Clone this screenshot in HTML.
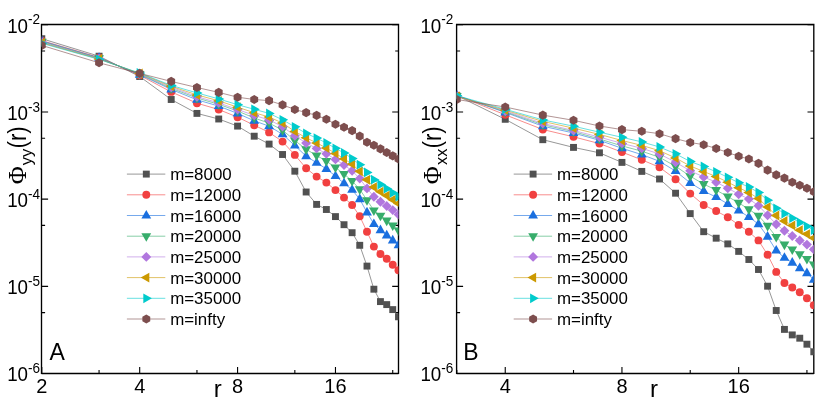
<!DOCTYPE html>
<html><head><meta charset="utf-8"><style>
html,body{margin:0;padding:0;background:#fff;}
svg{display:block;font-family:"Liberation Sans",sans-serif;}
svg{will-change:transform;}
</style></head><body>
<svg width="830" height="415" viewBox="0 0 830 415">
<rect width="830" height="415" fill="#fff"/>
<path d="M41.5,23.85V374.09999999999997M398.5,23.85V374.09999999999997M41.5,24.5H398.5M41.5,373.45H398.5" fill="none" stroke="#000" stroke-width="1.35"/>
<text x="41.80" y="393.0" font-size="20" text-anchor="middle">2</text>
<text x="139.69" y="393.0" font-size="20" text-anchor="middle">4</text>
<text x="237.58" y="393.0" font-size="20" text-anchor="middle">8</text>
<text x="335.47" y="393.0" font-size="20" text-anchor="middle">16</text>
<path d="M41.8,24.75h6.3M398.5,24.75h-6.3 M41.8,51.00h3.3M398.5,51.00h-3.3 M41.8,111.95h6.3M398.5,111.95h-6.3 M41.8,138.20h3.3M398.5,138.20h-3.3 M41.8,199.15h6.3M398.5,199.15h-6.3 M41.8,225.40h3.3M398.5,225.40h-3.3 M41.8,286.35h6.3M398.5,286.35h-6.3 M41.8,312.60h3.3M398.5,312.60h-3.3 M41.8,373.55h6.3M398.5,373.55h-6.3 M41.80,373.4v-6.3 M99.06,373.4v-3.3 M139.69,373.4v-6.3 M196.95,373.4v-3.3 M237.58,373.4v-6.3 M294.84,373.4v-3.3 M335.47,373.4v-6.3 M392.73,373.4v-3.3" stroke="#000" stroke-width="1.1" fill="none"/>
<clipPath id="ca"><rect x="41.8" y="24.6" width="356.7" height="348.79999999999995"/></clipPath>
<g clip-path="url(#ca)">
<polyline points="41.80,38.7 99.06,56.2 139.69,76.5 171.20,99.5 196.95,113.4 218.72,119 237.58,126.1 254.22,136.2 269.10,144.1 282.56,154.5 294.84,171.2 306.15,192 316.61,204.4 326.36,209.5 335.47,216.6 344.03,224.7 352.11,232.7 359.74,245.3 366.99,266.1 373.88,289.2 380.45,301.6 386.72,304.6 392.73,309.6 398.50,316.8" fill="none" stroke="#515151" stroke-width="0.6"/>
<rect x="38.35" y="35.25" width="6.9" height="6.9" fill="#515151"/>
<rect x="95.61" y="52.75" width="6.9" height="6.9" fill="#515151"/>
<rect x="136.24" y="73.05" width="6.9" height="6.9" fill="#515151"/>
<rect x="167.75" y="96.05" width="6.9" height="6.9" fill="#515151"/>
<rect x="193.50" y="109.95" width="6.9" height="6.9" fill="#515151"/>
<rect x="215.27" y="115.55" width="6.9" height="6.9" fill="#515151"/>
<rect x="234.13" y="122.65" width="6.9" height="6.9" fill="#515151"/>
<rect x="250.77" y="132.75" width="6.9" height="6.9" fill="#515151"/>
<rect x="265.65" y="140.65" width="6.9" height="6.9" fill="#515151"/>
<rect x="279.11" y="151.05" width="6.9" height="6.9" fill="#515151"/>
<rect x="291.39" y="167.75" width="6.9" height="6.9" fill="#515151"/>
<rect x="302.70" y="188.55" width="6.9" height="6.9" fill="#515151"/>
<rect x="313.16" y="200.95" width="6.9" height="6.9" fill="#515151"/>
<rect x="322.91" y="206.05" width="6.9" height="6.9" fill="#515151"/>
<rect x="332.02" y="213.15" width="6.9" height="6.9" fill="#515151"/>
<rect x="340.58" y="221.25" width="6.9" height="6.9" fill="#515151"/>
<rect x="348.66" y="229.25" width="6.9" height="6.9" fill="#515151"/>
<rect x="356.29" y="241.85" width="6.9" height="6.9" fill="#515151"/>
<rect x="363.54" y="262.65" width="6.9" height="6.9" fill="#515151"/>
<rect x="370.43" y="285.75" width="6.9" height="6.9" fill="#515151"/>
<rect x="377.00" y="298.15" width="6.9" height="6.9" fill="#515151"/>
<rect x="383.27" y="301.15" width="6.9" height="6.9" fill="#515151"/>
<rect x="389.28" y="306.15" width="6.9" height="6.9" fill="#515151"/>
<rect x="395.05" y="313.35" width="6.9" height="6.9" fill="#515151"/>
<polyline points="41.80,40.6 99.06,57.4 139.69,75.3 171.20,91.9 196.95,103.2 218.72,109.5 237.58,117.2 254.22,125.2 269.10,132.4 282.56,141.6 294.84,154.9 306.15,168.3 316.61,176.6 326.36,182.6 335.47,190.1 344.03,197.6 352.11,205 359.74,216.2 366.99,231.7 373.88,246.6 380.45,254.0 386.72,258.8 392.73,264.7 398.50,270.2" fill="none" stroke="#F14040" stroke-width="0.6"/>
<circle cx="41.8" cy="40.6" r="3.95" fill="#F14040"/>
<circle cx="99.06" cy="57.4" r="3.95" fill="#F14040"/>
<circle cx="139.69" cy="75.3" r="3.95" fill="#F14040"/>
<circle cx="171.2" cy="91.9" r="3.95" fill="#F14040"/>
<circle cx="196.95" cy="103.2" r="3.95" fill="#F14040"/>
<circle cx="218.72" cy="109.5" r="3.95" fill="#F14040"/>
<circle cx="237.58" cy="117.2" r="3.95" fill="#F14040"/>
<circle cx="254.22" cy="125.2" r="3.95" fill="#F14040"/>
<circle cx="269.1" cy="132.4" r="3.95" fill="#F14040"/>
<circle cx="282.56" cy="141.6" r="3.95" fill="#F14040"/>
<circle cx="294.84" cy="154.9" r="3.95" fill="#F14040"/>
<circle cx="306.15" cy="168.3" r="3.95" fill="#F14040"/>
<circle cx="316.61" cy="176.6" r="3.95" fill="#F14040"/>
<circle cx="326.36" cy="182.6" r="3.95" fill="#F14040"/>
<circle cx="335.47" cy="190.1" r="3.95" fill="#F14040"/>
<circle cx="344.03" cy="197.6" r="3.95" fill="#F14040"/>
<circle cx="352.11" cy="205" r="3.95" fill="#F14040"/>
<circle cx="359.74" cy="216.2" r="3.95" fill="#F14040"/>
<circle cx="366.99" cy="231.7" r="3.95" fill="#F14040"/>
<circle cx="373.88" cy="246.6" r="3.95" fill="#F14040"/>
<circle cx="380.45" cy="254.0" r="3.95" fill="#F14040"/>
<circle cx="386.72" cy="258.8" r="3.95" fill="#F14040"/>
<circle cx="392.73" cy="264.7" r="3.95" fill="#F14040"/>
<circle cx="398.5" cy="270.2" r="3.95" fill="#F14040"/>
<polyline points="41.80,41 99.06,57.8 139.69,74.7 171.20,89.4 196.95,99.8 218.72,106.1 237.58,113.4 254.22,120.8 269.10,126.2 282.56,134.3 294.84,145.6 306.15,156.2 316.61,162.8 326.36,168.9 335.47,176.1 344.03,183.3 352.11,189.8 359.74,199.2 366.99,212.4 373.88,224 380.45,230.2 386.72,235.4 392.73,240.4 398.50,245.2" fill="none" stroke="#1A6FDF" stroke-width="0.6"/>
<path d="M36.90,44.00L46.70,44.00L41.8,35.40Z" fill="#1A6FDF"/>
<path d="M94.16,60.80L103.96,60.80L99.06,52.20Z" fill="#1A6FDF"/>
<path d="M134.79,77.70L144.59,77.70L139.69,69.10Z" fill="#1A6FDF"/>
<path d="M166.30,92.40L176.10,92.40L171.2,83.80Z" fill="#1A6FDF"/>
<path d="M192.05,102.80L201.85,102.80L196.95,94.20Z" fill="#1A6FDF"/>
<path d="M213.82,109.10L223.62,109.10L218.72,100.50Z" fill="#1A6FDF"/>
<path d="M232.68,116.40L242.48,116.40L237.58,107.80Z" fill="#1A6FDF"/>
<path d="M249.32,123.80L259.12,123.80L254.22,115.20Z" fill="#1A6FDF"/>
<path d="M264.20,129.20L274.00,129.20L269.1,120.60Z" fill="#1A6FDF"/>
<path d="M277.66,137.30L287.46,137.30L282.56,128.70Z" fill="#1A6FDF"/>
<path d="M289.94,148.60L299.74,148.60L294.84,140.00Z" fill="#1A6FDF"/>
<path d="M301.25,159.20L311.05,159.20L306.15,150.60Z" fill="#1A6FDF"/>
<path d="M311.71,165.80L321.51,165.80L316.61,157.20Z" fill="#1A6FDF"/>
<path d="M321.46,171.90L331.26,171.90L326.36,163.30Z" fill="#1A6FDF"/>
<path d="M330.57,179.10L340.37,179.10L335.47,170.50Z" fill="#1A6FDF"/>
<path d="M339.13,186.30L348.93,186.30L344.03,177.70Z" fill="#1A6FDF"/>
<path d="M347.21,192.80L357.01,192.80L352.11,184.20Z" fill="#1A6FDF"/>
<path d="M354.84,202.20L364.64,202.20L359.74,193.60Z" fill="#1A6FDF"/>
<path d="M362.09,215.40L371.89,215.40L366.99,206.80Z" fill="#1A6FDF"/>
<path d="M368.98,227.00L378.78,227.00L373.88,218.40Z" fill="#1A6FDF"/>
<path d="M375.55,233.20L385.35,233.20L380.45,224.60Z" fill="#1A6FDF"/>
<path d="M381.82,238.40L391.62,238.40L386.72,229.80Z" fill="#1A6FDF"/>
<path d="M387.83,243.40L397.63,243.40L392.73,234.80Z" fill="#1A6FDF"/>
<path d="M393.60,248.20L403.40,248.20L398.5,239.60Z" fill="#1A6FDF"/>
<polyline points="41.80,41.7 99.06,58.3 139.69,74.2 171.20,88.3 196.95,98 218.72,104.3 237.58,111 254.22,118 269.10,123.1 282.56,130.1 294.84,140.5 306.15,149.3 316.61,155.5 326.36,161.1 335.47,167.5 344.03,174 352.11,181 359.74,189.3 366.99,200.2 373.88,210.4 380.45,215.7 386.72,220.6 392.73,225.4 398.50,230.4" fill="none" stroke="#37AD6B" stroke-width="0.6"/>
<path d="M36.90,38.70L46.70,38.70L41.8,47.30Z" fill="#37AD6B"/>
<path d="M94.16,55.30L103.96,55.30L99.06,63.90Z" fill="#37AD6B"/>
<path d="M134.79,71.20L144.59,71.20L139.69,79.80Z" fill="#37AD6B"/>
<path d="M166.30,85.30L176.10,85.30L171.2,93.90Z" fill="#37AD6B"/>
<path d="M192.05,95.00L201.85,95.00L196.95,103.60Z" fill="#37AD6B"/>
<path d="M213.82,101.30L223.62,101.30L218.72,109.90Z" fill="#37AD6B"/>
<path d="M232.68,108.00L242.48,108.00L237.58,116.60Z" fill="#37AD6B"/>
<path d="M249.32,115.00L259.12,115.00L254.22,123.60Z" fill="#37AD6B"/>
<path d="M264.20,120.10L274.00,120.10L269.1,128.70Z" fill="#37AD6B"/>
<path d="M277.66,127.10L287.46,127.10L282.56,135.70Z" fill="#37AD6B"/>
<path d="M289.94,137.50L299.74,137.50L294.84,146.10Z" fill="#37AD6B"/>
<path d="M301.25,146.30L311.05,146.30L306.15,154.90Z" fill="#37AD6B"/>
<path d="M311.71,152.50L321.51,152.50L316.61,161.10Z" fill="#37AD6B"/>
<path d="M321.46,158.10L331.26,158.10L326.36,166.70Z" fill="#37AD6B"/>
<path d="M330.57,164.50L340.37,164.50L335.47,173.10Z" fill="#37AD6B"/>
<path d="M339.13,171.00L348.93,171.00L344.03,179.60Z" fill="#37AD6B"/>
<path d="M347.21,178.00L357.01,178.00L352.11,186.60Z" fill="#37AD6B"/>
<path d="M354.84,186.30L364.64,186.30L359.74,194.90Z" fill="#37AD6B"/>
<path d="M362.09,197.20L371.89,197.20L366.99,205.80Z" fill="#37AD6B"/>
<path d="M368.98,207.40L378.78,207.40L373.88,216.00Z" fill="#37AD6B"/>
<path d="M375.55,212.70L385.35,212.70L380.45,221.30Z" fill="#37AD6B"/>
<path d="M381.82,217.60L391.62,217.60L386.72,226.20Z" fill="#37AD6B"/>
<path d="M387.83,222.40L397.63,222.40L392.73,231.00Z" fill="#37AD6B"/>
<path d="M393.60,227.40L403.40,227.40L398.5,236.00Z" fill="#37AD6B"/>
<polyline points="41.80,42.3 99.06,58.7 139.69,73.8 171.20,87.2 196.95,96.7 218.72,102.9 237.58,109.5 254.22,115.4 269.10,119.9 282.56,126.6 294.84,135.8 306.15,143 316.61,148.4 326.36,153.8 335.47,159.4 344.03,165 352.11,170.8 359.74,178.6 366.99,188.4 373.88,196.8 380.45,201.7 386.72,206 392.73,210.1 398.50,214.5" fill="none" stroke="#B177DE" stroke-width="0.6"/>
<path d="M36.85,42.3L41.8,37.35L46.75,42.3L41.8,47.25Z" fill="#B177DE"/>
<path d="M94.11,58.7L99.06,53.75L104.01,58.7L99.06,63.65Z" fill="#B177DE"/>
<path d="M134.74,73.8L139.69,68.85L144.64,73.8L139.69,78.75Z" fill="#B177DE"/>
<path d="M166.25,87.2L171.2,82.25L176.15,87.2L171.2,92.15Z" fill="#B177DE"/>
<path d="M192.00,96.7L196.95,91.75L201.90,96.7L196.95,101.65Z" fill="#B177DE"/>
<path d="M213.77,102.9L218.72,97.95L223.67,102.9L218.72,107.85Z" fill="#B177DE"/>
<path d="M232.63,109.5L237.58,104.55L242.53,109.5L237.58,114.45Z" fill="#B177DE"/>
<path d="M249.27,115.4L254.22,110.45L259.17,115.4L254.22,120.35Z" fill="#B177DE"/>
<path d="M264.15,119.9L269.1,114.95L274.05,119.9L269.1,124.85Z" fill="#B177DE"/>
<path d="M277.61,126.6L282.56,121.65L287.51,126.6L282.56,131.55Z" fill="#B177DE"/>
<path d="M289.89,135.8L294.84,130.85L299.79,135.8L294.84,140.75Z" fill="#B177DE"/>
<path d="M301.20,143L306.15,138.05L311.10,143L306.15,147.95Z" fill="#B177DE"/>
<path d="M311.66,148.4L316.61,143.45L321.56,148.4L316.61,153.35Z" fill="#B177DE"/>
<path d="M321.41,153.8L326.36,148.85L331.31,153.8L326.36,158.75Z" fill="#B177DE"/>
<path d="M330.52,159.4L335.47,154.45L340.42,159.4L335.47,164.35Z" fill="#B177DE"/>
<path d="M339.08,165L344.03,160.05L348.98,165L344.03,169.95Z" fill="#B177DE"/>
<path d="M347.16,170.8L352.11,165.85L357.06,170.8L352.11,175.75Z" fill="#B177DE"/>
<path d="M354.79,178.6L359.74,173.65L364.69,178.6L359.74,183.55Z" fill="#B177DE"/>
<path d="M362.04,188.4L366.99,183.45L371.94,188.4L366.99,193.35Z" fill="#B177DE"/>
<path d="M368.93,196.8L373.88,191.85L378.83,196.8L373.88,201.75Z" fill="#B177DE"/>
<path d="M375.50,201.7L380.45,196.75L385.40,201.7L380.45,206.65Z" fill="#B177DE"/>
<path d="M381.77,206L386.72,201.05L391.67,206L386.72,210.95Z" fill="#B177DE"/>
<path d="M387.78,210.1L392.73,205.15L397.68,210.1L392.73,215.05Z" fill="#B177DE"/>
<path d="M393.55,214.5L398.5,209.55L403.45,214.5L398.5,219.45Z" fill="#B177DE"/>
<polyline points="41.80,42.8 99.06,59 139.69,73.4 171.20,86.3 196.95,94.9 218.72,100.8 237.58,107.2 254.22,112.7 269.10,117 282.56,123.1 294.84,131.4 306.15,137.8 316.61,142.9 326.36,148 335.47,153.4 344.03,158.8 352.11,164.1 359.74,171.3 366.99,179.8 373.88,187.1 380.45,191.7 386.72,195.6 392.73,199.7 398.50,203.5" fill="none" stroke="#CC9900" stroke-width="0.6"/>
<path d="M44.80,37.90L44.80,47.70L36.20,42.8Z" fill="#CC9900"/>
<path d="M102.06,54.10L102.06,63.90L93.46,59Z" fill="#CC9900"/>
<path d="M142.69,68.50L142.69,78.30L134.09,73.4Z" fill="#CC9900"/>
<path d="M174.20,81.40L174.20,91.20L165.60,86.3Z" fill="#CC9900"/>
<path d="M199.95,90.00L199.95,99.80L191.35,94.9Z" fill="#CC9900"/>
<path d="M221.72,95.90L221.72,105.70L213.12,100.8Z" fill="#CC9900"/>
<path d="M240.58,102.30L240.58,112.10L231.98,107.2Z" fill="#CC9900"/>
<path d="M257.22,107.80L257.22,117.60L248.62,112.7Z" fill="#CC9900"/>
<path d="M272.10,112.10L272.10,121.90L263.50,117Z" fill="#CC9900"/>
<path d="M285.56,118.20L285.56,128.00L276.96,123.1Z" fill="#CC9900"/>
<path d="M297.84,126.50L297.84,136.30L289.24,131.4Z" fill="#CC9900"/>
<path d="M309.15,132.90L309.15,142.70L300.55,137.8Z" fill="#CC9900"/>
<path d="M319.61,138.00L319.61,147.80L311.01,142.9Z" fill="#CC9900"/>
<path d="M329.36,143.10L329.36,152.90L320.76,148Z" fill="#CC9900"/>
<path d="M338.47,148.50L338.47,158.30L329.87,153.4Z" fill="#CC9900"/>
<path d="M347.03,153.90L347.03,163.70L338.43,158.8Z" fill="#CC9900"/>
<path d="M355.11,159.20L355.11,169.00L346.51,164.1Z" fill="#CC9900"/>
<path d="M362.74,166.40L362.74,176.20L354.14,171.3Z" fill="#CC9900"/>
<path d="M369.99,174.90L369.99,184.70L361.39,179.8Z" fill="#CC9900"/>
<path d="M376.88,182.20L376.88,192.00L368.28,187.1Z" fill="#CC9900"/>
<path d="M383.45,186.80L383.45,196.60L374.85,191.7Z" fill="#CC9900"/>
<path d="M389.72,190.70L389.72,200.50L381.12,195.6Z" fill="#CC9900"/>
<path d="M395.73,194.80L395.73,204.60L387.13,199.7Z" fill="#CC9900"/>
<path d="M401.50,198.60L401.50,208.40L392.90,203.5Z" fill="#CC9900"/>
<polyline points="41.80,43.3 99.06,59.4 139.69,73 171.20,85.4 196.95,92.9 218.72,98.9 237.58,104.7 254.22,109.3 269.10,113.4 282.56,119.8 294.84,126.8 306.15,133.4 316.61,138.1 326.36,143 335.47,148.3 344.03,153 352.11,158.6 359.74,164.7 366.99,172.4 373.88,179.7 380.45,184.5 386.72,188.7 392.73,192.8 398.50,196.5" fill="none" stroke="#00CBCC" stroke-width="0.6"/>
<path d="M38.80,38.40L38.80,48.20L47.40,43.3Z" fill="#00CBCC"/>
<path d="M96.06,54.50L96.06,64.30L104.66,59.4Z" fill="#00CBCC"/>
<path d="M136.69,68.10L136.69,77.90L145.29,73Z" fill="#00CBCC"/>
<path d="M168.20,80.50L168.20,90.30L176.80,85.4Z" fill="#00CBCC"/>
<path d="M193.95,88.00L193.95,97.80L202.55,92.9Z" fill="#00CBCC"/>
<path d="M215.72,94.00L215.72,103.80L224.32,98.9Z" fill="#00CBCC"/>
<path d="M234.58,99.80L234.58,109.60L243.18,104.7Z" fill="#00CBCC"/>
<path d="M251.22,104.40L251.22,114.20L259.82,109.3Z" fill="#00CBCC"/>
<path d="M266.10,108.50L266.10,118.30L274.70,113.4Z" fill="#00CBCC"/>
<path d="M279.56,114.90L279.56,124.70L288.16,119.8Z" fill="#00CBCC"/>
<path d="M291.84,121.90L291.84,131.70L300.44,126.8Z" fill="#00CBCC"/>
<path d="M303.15,128.50L303.15,138.30L311.75,133.4Z" fill="#00CBCC"/>
<path d="M313.61,133.20L313.61,143.00L322.21,138.1Z" fill="#00CBCC"/>
<path d="M323.36,138.10L323.36,147.90L331.96,143Z" fill="#00CBCC"/>
<path d="M332.47,143.40L332.47,153.20L341.07,148.3Z" fill="#00CBCC"/>
<path d="M341.03,148.10L341.03,157.90L349.63,153Z" fill="#00CBCC"/>
<path d="M349.11,153.70L349.11,163.50L357.71,158.6Z" fill="#00CBCC"/>
<path d="M356.74,159.80L356.74,169.60L365.34,164.7Z" fill="#00CBCC"/>
<path d="M363.99,167.50L363.99,177.30L372.59,172.4Z" fill="#00CBCC"/>
<path d="M370.88,174.80L370.88,184.60L379.48,179.7Z" fill="#00CBCC"/>
<path d="M377.45,179.60L377.45,189.40L386.05,184.5Z" fill="#00CBCC"/>
<path d="M383.72,183.80L383.72,193.60L392.32,188.7Z" fill="#00CBCC"/>
<path d="M389.73,187.90L389.73,197.70L398.33,192.8Z" fill="#00CBCC"/>
<path d="M395.50,191.60L395.50,201.40L404.10,196.5Z" fill="#00CBCC"/>
<polyline points="41.80,45.4 99.06,62.8 139.69,73.4 171.20,81.4 196.95,87.5 218.72,92.4 237.58,97.2 254.22,99.5 269.10,100.6 282.56,104.9 294.84,109.5 306.15,112.6 316.61,115.4 326.36,119.3 335.47,124.2 344.03,127.2 352.11,130.6 359.74,136.1 366.99,142.2 373.88,145.3 380.45,148.9 386.72,152.5 392.73,155.9 398.50,159" fill="none" stroke="#7D4E4E" stroke-width="0.6"/>
<polygon points="41.80,40.85 37.86,43.12 37.86,47.67 41.80,49.95 45.74,47.67 45.74,43.12" fill="#7D4E4E"/>
<polygon points="99.06,58.25 95.12,60.52 95.12,65.08 99.06,67.35 103.00,65.08 103.00,60.52" fill="#7D4E4E"/>
<polygon points="139.69,68.85 135.75,71.12 135.75,75.68 139.69,77.95 143.63,75.68 143.63,71.12" fill="#7D4E4E"/>
<polygon points="171.20,76.85 167.26,79.12 167.26,83.68 171.20,85.95 175.14,83.68 175.14,79.12" fill="#7D4E4E"/>
<polygon points="196.95,82.95 193.01,85.22 193.01,89.78 196.95,92.05 200.89,89.78 200.89,85.22" fill="#7D4E4E"/>
<polygon points="218.72,87.85 214.78,90.12 214.78,94.68 218.72,96.95 222.66,94.68 222.66,90.12" fill="#7D4E4E"/>
<polygon points="237.58,92.65 233.64,94.92 233.64,99.48 237.58,101.75 241.52,99.48 241.52,94.92" fill="#7D4E4E"/>
<polygon points="254.22,94.95 250.28,97.22 250.28,101.78 254.22,104.05 258.16,101.78 258.16,97.22" fill="#7D4E4E"/>
<polygon points="269.10,96.05 265.16,98.32 265.16,102.88 269.10,105.15 273.04,102.88 273.04,98.32" fill="#7D4E4E"/>
<polygon points="282.56,100.35 278.62,102.62 278.62,107.18 282.56,109.45 286.50,107.18 286.50,102.62" fill="#7D4E4E"/>
<polygon points="294.84,104.95 290.90,107.22 290.90,111.78 294.84,114.05 298.78,111.78 298.78,107.22" fill="#7D4E4E"/>
<polygon points="306.15,108.05 302.21,110.32 302.21,114.88 306.15,117.15 310.09,114.88 310.09,110.32" fill="#7D4E4E"/>
<polygon points="316.61,110.85 312.67,113.12 312.67,117.68 316.61,119.95 320.55,117.68 320.55,113.12" fill="#7D4E4E"/>
<polygon points="326.36,114.75 322.42,117.02 322.42,121.58 326.36,123.85 330.30,121.58 330.30,117.02" fill="#7D4E4E"/>
<polygon points="335.47,119.65 331.53,121.92 331.53,126.48 335.47,128.75 339.41,126.48 339.41,121.92" fill="#7D4E4E"/>
<polygon points="344.03,122.65 340.09,124.92 340.09,129.47 344.03,131.75 347.97,129.47 347.97,124.92" fill="#7D4E4E"/>
<polygon points="352.11,126.05 348.17,128.32 348.17,132.88 352.11,135.15 356.05,132.88 356.05,128.32" fill="#7D4E4E"/>
<polygon points="359.74,131.55 355.80,133.82 355.80,138.38 359.74,140.65 363.68,138.38 363.68,133.82" fill="#7D4E4E"/>
<polygon points="366.99,137.65 363.05,139.92 363.05,144.47 366.99,146.75 370.93,144.47 370.93,139.92" fill="#7D4E4E"/>
<polygon points="373.88,140.75 369.94,143.03 369.94,147.58 373.88,149.85 377.82,147.58 377.82,143.03" fill="#7D4E4E"/>
<polygon points="380.45,144.35 376.51,146.62 376.51,151.18 380.45,153.45 384.39,151.18 384.39,146.62" fill="#7D4E4E"/>
<polygon points="386.72,147.95 382.78,150.22 382.78,154.78 386.72,157.05 390.66,154.78 390.66,150.22" fill="#7D4E4E"/>
<polygon points="392.73,151.35 388.79,153.62 388.79,158.18 392.73,160.45 396.67,158.18 396.67,153.62" fill="#7D4E4E"/>
<polygon points="398.50,154.45 394.56,156.72 394.56,161.28 398.50,163.55 402.44,161.28 402.44,156.72" fill="#7D4E4E"/>
</g>
<text transform="translate(40.099999999999994,32.90) scale(0.93,1)" font-size="20.2" text-anchor="end">10<tspan font-size="14.6" dy="-8.9">-2</tspan></text>
<text transform="translate(40.099999999999994,119.50) scale(0.93,1)" font-size="20.2" text-anchor="end">10<tspan font-size="14.6" dy="-8.0">-3</tspan></text>
<text transform="translate(40.099999999999994,207.30) scale(0.93,1)" font-size="20.2" text-anchor="end">10<tspan font-size="14.6" dy="-8.3">-4</tspan></text>
<text transform="translate(40.099999999999994,294.20) scale(0.93,1)" font-size="20.2" text-anchor="end">10<tspan font-size="14.6" dy="-8.2">-5</tspan></text>
<text transform="translate(40.099999999999994,381.30) scale(0.93,1)" font-size="20.2" text-anchor="end">10<tspan font-size="14.6" dy="-8.2">-6</tspan></text>
<text transform="translate(26.0,184.2) rotate(-90)" font-size="24.6" font-family="Liberation Serif">Φ</text>
<text transform="translate(31.5,165.2) rotate(-90)" font-size="16.4">yy</text>
<text transform="translate(26.2,148.6) rotate(-90) scale(0.9,1)" font-size="25">(r)</text>
<text x="213.7" y="397.1" font-size="24">r</text>
<text x="49.4" y="359.9" font-size="23">A</text>
<path d="M126.9,174.10h38.4" stroke="#515151" stroke-width="0.6"/>
<rect x="142.85" y="170.65" width="6.9" height="6.9" fill="#515151"/>
<text x="170.2" y="180.10" font-size="16.9">m=8000</text>
<path d="M126.9,194.80h38.4" stroke="#F14040" stroke-width="0.6"/>
<circle cx="146.3" cy="194.8" r="3.95" fill="#F14040"/>
<text x="170.2" y="200.80" font-size="16.9">m=12000</text>
<path d="M126.9,215.50h38.4" stroke="#1A6FDF" stroke-width="0.6"/>
<path d="M141.40,218.50L151.20,218.50L146.3,209.90Z" fill="#1A6FDF"/>
<text x="170.2" y="221.50" font-size="16.9">m=16000</text>
<path d="M126.9,236.20h38.4" stroke="#37AD6B" stroke-width="0.6"/>
<path d="M141.40,233.20L151.20,233.20L146.3,241.80Z" fill="#37AD6B"/>
<text x="170.2" y="242.20" font-size="16.9">m=20000</text>
<path d="M126.9,256.90h38.4" stroke="#B177DE" stroke-width="0.6"/>
<path d="M141.35,256.9L146.3,251.95L151.25,256.9L146.3,261.85Z" fill="#B177DE"/>
<text x="170.2" y="262.90" font-size="16.9">m=25000</text>
<path d="M126.9,277.60h38.4" stroke="#CC9900" stroke-width="0.6"/>
<path d="M149.30,272.70L149.30,282.50L140.70,277.6Z" fill="#CC9900"/>
<text x="170.2" y="283.60" font-size="16.9">m=30000</text>
<path d="M126.9,298.30h38.4" stroke="#00CBCC" stroke-width="0.6"/>
<path d="M143.30,293.40L143.30,303.20L151.90,298.3Z" fill="#00CBCC"/>
<text x="170.2" y="304.30" font-size="16.9">m=35000</text>
<path d="M126.9,319.00h38.4" stroke="#7D4E4E" stroke-width="0.6"/>
<polygon points="146.30,314.45 142.36,316.73 142.36,321.27 146.30,323.55 150.24,321.27 150.24,316.73" fill="#7D4E4E"/>
<text x="170.2" y="325.00" font-size="16.9">m=infty</text>
<path d="M456.6,23.85V374.09999999999997M813.8,23.85V374.09999999999997M456.6,24.5H813.8M456.6,373.45H813.8" fill="none" stroke="#000" stroke-width="1.35"/>
<text x="505.24" y="393.0" font-size="20" text-anchor="middle">4</text>
<text x="621.95" y="393.0" font-size="20" text-anchor="middle">8</text>
<text x="738.66" y="393.0" font-size="20" text-anchor="middle">16</text>
<path d="M456.8,24.75h6.3M813.8,24.75h-6.3 M456.8,51.00h3.3M813.8,51.00h-3.3 M456.8,111.95h6.3M813.8,111.95h-6.3 M456.8,138.20h3.3M813.8,138.20h-3.3 M456.8,199.15h6.3M813.8,199.15h-6.3 M456.8,225.40h3.3M813.8,225.40h-3.3 M456.8,286.35h6.3M813.8,286.35h-6.3 M456.8,312.60h3.3M813.8,312.60h-3.3 M456.8,373.55h6.3M813.8,373.55h-6.3 M456.80,373.4v-3.3 M505.24,373.4v-6.3 M573.51,373.4v-3.3 M621.95,373.4v-6.3 M690.22,373.4v-3.3 M738.66,373.4v-6.3 M806.93,373.4v-3.3" stroke="#000" stroke-width="1.1" fill="none"/>
<clipPath id="cb"><rect x="456.8" y="24.6" width="356.99999999999994" height="348.79999999999995"/></clipPath>
<g clip-path="url(#cb)">
<polyline points="456.80,95.5 505.24,119.3 542.81,139.7 573.51,147.4 599.46,152.8 621.95,162.4 641.78,171.4 659.52,179 675.57,193.2 690.22,213.6 703.69,231.7 716.17,238.2 727.79,243.9 738.66,251.4 748.86,259.5 758.49,269.5 767.59,286.2 776.23,310.5 784.44,329.4 792.28,334.9 799.76,338.2 806.93,344.2 813.80,351.8" fill="none" stroke="#515151" stroke-width="0.6"/>
<rect x="453.35" y="92.05" width="6.9" height="6.9" fill="#515151"/>
<rect x="501.79" y="115.85" width="6.9" height="6.9" fill="#515151"/>
<rect x="539.36" y="136.25" width="6.9" height="6.9" fill="#515151"/>
<rect x="570.06" y="143.95" width="6.9" height="6.9" fill="#515151"/>
<rect x="596.01" y="149.35" width="6.9" height="6.9" fill="#515151"/>
<rect x="618.50" y="158.95" width="6.9" height="6.9" fill="#515151"/>
<rect x="638.33" y="167.95" width="6.9" height="6.9" fill="#515151"/>
<rect x="656.07" y="175.55" width="6.9" height="6.9" fill="#515151"/>
<rect x="672.12" y="189.75" width="6.9" height="6.9" fill="#515151"/>
<rect x="686.77" y="210.15" width="6.9" height="6.9" fill="#515151"/>
<rect x="700.24" y="228.25" width="6.9" height="6.9" fill="#515151"/>
<rect x="712.72" y="234.75" width="6.9" height="6.9" fill="#515151"/>
<rect x="724.34" y="240.45" width="6.9" height="6.9" fill="#515151"/>
<rect x="735.21" y="247.95" width="6.9" height="6.9" fill="#515151"/>
<rect x="745.41" y="256.05" width="6.9" height="6.9" fill="#515151"/>
<rect x="755.04" y="266.05" width="6.9" height="6.9" fill="#515151"/>
<rect x="764.14" y="282.75" width="6.9" height="6.9" fill="#515151"/>
<rect x="772.78" y="307.05" width="6.9" height="6.9" fill="#515151"/>
<rect x="780.99" y="325.95" width="6.9" height="6.9" fill="#515151"/>
<rect x="788.83" y="331.45" width="6.9" height="6.9" fill="#515151"/>
<rect x="796.31" y="334.75" width="6.9" height="6.9" fill="#515151"/>
<rect x="803.48" y="340.75" width="6.9" height="6.9" fill="#515151"/>
<rect x="810.35" y="348.35" width="6.9" height="6.9" fill="#515151"/>
<polyline points="456.80,95.4 505.24,114.8 542.81,129.5 573.51,136.8 599.46,143.6 621.95,152.1 641.78,159.8 659.52,167.3 675.57,179.2 690.22,193.6 703.69,205 716.17,211 727.79,217.2 738.66,224.9 748.86,231.8 758.49,240.4 767.59,254.8 776.23,271.9 784.44,283.0 792.28,287.5 799.76,292.3 806.93,298.2 813.80,305.2" fill="none" stroke="#F14040" stroke-width="0.6"/>
<circle cx="456.8" cy="95.4" r="3.95" fill="#F14040"/>
<circle cx="505.24" cy="114.8" r="3.95" fill="#F14040"/>
<circle cx="542.81" cy="129.5" r="3.95" fill="#F14040"/>
<circle cx="573.51" cy="136.8" r="3.95" fill="#F14040"/>
<circle cx="599.46" cy="143.6" r="3.95" fill="#F14040"/>
<circle cx="621.95" cy="152.1" r="3.95" fill="#F14040"/>
<circle cx="641.78" cy="159.8" r="3.95" fill="#F14040"/>
<circle cx="659.52" cy="167.3" r="3.95" fill="#F14040"/>
<circle cx="675.57" cy="179.2" r="3.95" fill="#F14040"/>
<circle cx="690.22" cy="193.6" r="3.95" fill="#F14040"/>
<circle cx="703.69" cy="205" r="3.95" fill="#F14040"/>
<circle cx="716.17" cy="211" r="3.95" fill="#F14040"/>
<circle cx="727.79" cy="217.2" r="3.95" fill="#F14040"/>
<circle cx="738.66" cy="224.9" r="3.95" fill="#F14040"/>
<circle cx="748.86" cy="231.8" r="3.95" fill="#F14040"/>
<circle cx="758.49" cy="240.4" r="3.95" fill="#F14040"/>
<circle cx="767.59" cy="254.8" r="3.95" fill="#F14040"/>
<circle cx="776.23" cy="271.9" r="3.95" fill="#F14040"/>
<circle cx="784.44" cy="283.0" r="3.95" fill="#F14040"/>
<circle cx="792.28" cy="287.5" r="3.95" fill="#F14040"/>
<circle cx="799.76" cy="292.3" r="3.95" fill="#F14040"/>
<circle cx="806.93" cy="298.2" r="3.95" fill="#F14040"/>
<circle cx="813.8" cy="305.2" r="3.95" fill="#F14040"/>
<polyline points="456.80,95.3 505.24,112.4 542.81,126.2 573.51,133 599.46,140.3 621.95,148.3 641.78,154.6 659.52,161.3 675.57,171.1 690.22,182.9 703.69,191.1 716.17,197.1 727.79,203.9 738.66,210.6 748.86,216.9 758.49,224.2 767.59,236.7 776.23,250.6 784.44,257.8 792.28,262.7 799.76,268.2 806.93,273.2 813.80,279.8" fill="none" stroke="#1A6FDF" stroke-width="0.6"/>
<path d="M451.90,98.30L461.70,98.30L456.8,89.70Z" fill="#1A6FDF"/>
<path d="M500.34,115.40L510.14,115.40L505.24,106.80Z" fill="#1A6FDF"/>
<path d="M537.91,129.20L547.71,129.20L542.81,120.60Z" fill="#1A6FDF"/>
<path d="M568.61,136.00L578.41,136.00L573.51,127.40Z" fill="#1A6FDF"/>
<path d="M594.56,143.30L604.36,143.30L599.46,134.70Z" fill="#1A6FDF"/>
<path d="M617.05,151.30L626.85,151.30L621.95,142.70Z" fill="#1A6FDF"/>
<path d="M636.88,157.60L646.68,157.60L641.78,149.00Z" fill="#1A6FDF"/>
<path d="M654.62,164.30L664.42,164.30L659.52,155.70Z" fill="#1A6FDF"/>
<path d="M670.67,174.10L680.47,174.10L675.57,165.50Z" fill="#1A6FDF"/>
<path d="M685.32,185.90L695.12,185.90L690.22,177.30Z" fill="#1A6FDF"/>
<path d="M698.79,194.10L708.59,194.10L703.69,185.50Z" fill="#1A6FDF"/>
<path d="M711.27,200.10L721.07,200.10L716.17,191.50Z" fill="#1A6FDF"/>
<path d="M722.89,206.90L732.69,206.90L727.79,198.30Z" fill="#1A6FDF"/>
<path d="M733.76,213.60L743.56,213.60L738.66,205.00Z" fill="#1A6FDF"/>
<path d="M743.96,219.90L753.76,219.90L748.86,211.30Z" fill="#1A6FDF"/>
<path d="M753.59,227.20L763.39,227.20L758.49,218.60Z" fill="#1A6FDF"/>
<path d="M762.69,239.70L772.49,239.70L767.59,231.10Z" fill="#1A6FDF"/>
<path d="M771.33,253.60L781.13,253.60L776.23,245.00Z" fill="#1A6FDF"/>
<path d="M779.54,260.80L789.34,260.80L784.44,252.20Z" fill="#1A6FDF"/>
<path d="M787.38,265.70L797.18,265.70L792.28,257.10Z" fill="#1A6FDF"/>
<path d="M794.86,271.20L804.66,271.20L799.76,262.60Z" fill="#1A6FDF"/>
<path d="M802.03,276.20L811.83,276.20L806.93,267.60Z" fill="#1A6FDF"/>
<path d="M808.90,282.80L818.70,282.80L813.8,274.20Z" fill="#1A6FDF"/>
<polyline points="456.80,95.9 505.24,111.8 542.81,124.7 573.51,131.6 599.46,139 621.95,145.9 641.78,151.2 659.52,157.3 675.57,166.3 690.22,176.2 703.69,184.1 716.17,190.1 727.79,196.6 738.66,202.8 748.86,209.3 758.49,215.8 767.59,225.8 776.23,237 784.44,244.6 792.28,249.4 799.76,254.2 806.93,259 813.80,264.6" fill="none" stroke="#37AD6B" stroke-width="0.6"/>
<path d="M451.90,92.90L461.70,92.90L456.8,101.50Z" fill="#37AD6B"/>
<path d="M500.34,108.80L510.14,108.80L505.24,117.40Z" fill="#37AD6B"/>
<path d="M537.91,121.70L547.71,121.70L542.81,130.30Z" fill="#37AD6B"/>
<path d="M568.61,128.60L578.41,128.60L573.51,137.20Z" fill="#37AD6B"/>
<path d="M594.56,136.00L604.36,136.00L599.46,144.60Z" fill="#37AD6B"/>
<path d="M617.05,142.90L626.85,142.90L621.95,151.50Z" fill="#37AD6B"/>
<path d="M636.88,148.20L646.68,148.20L641.78,156.80Z" fill="#37AD6B"/>
<path d="M654.62,154.30L664.42,154.30L659.52,162.90Z" fill="#37AD6B"/>
<path d="M670.67,163.30L680.47,163.30L675.57,171.90Z" fill="#37AD6B"/>
<path d="M685.32,173.20L695.12,173.20L690.22,181.80Z" fill="#37AD6B"/>
<path d="M698.79,181.10L708.59,181.10L703.69,189.70Z" fill="#37AD6B"/>
<path d="M711.27,187.10L721.07,187.10L716.17,195.70Z" fill="#37AD6B"/>
<path d="M722.89,193.60L732.69,193.60L727.79,202.20Z" fill="#37AD6B"/>
<path d="M733.76,199.80L743.56,199.80L738.66,208.40Z" fill="#37AD6B"/>
<path d="M743.96,206.30L753.76,206.30L748.86,214.90Z" fill="#37AD6B"/>
<path d="M753.59,212.80L763.39,212.80L758.49,221.40Z" fill="#37AD6B"/>
<path d="M762.69,222.80L772.49,222.80L767.59,231.40Z" fill="#37AD6B"/>
<path d="M771.33,234.00L781.13,234.00L776.23,242.60Z" fill="#37AD6B"/>
<path d="M779.54,241.60L789.34,241.60L784.44,250.20Z" fill="#37AD6B"/>
<path d="M787.38,246.40L797.18,246.40L792.28,255.00Z" fill="#37AD6B"/>
<path d="M794.86,251.20L804.66,251.20L799.76,259.80Z" fill="#37AD6B"/>
<path d="M802.03,256.00L811.83,256.00L806.93,264.60Z" fill="#37AD6B"/>
<path d="M808.90,261.60L818.70,261.60L813.8,270.20Z" fill="#37AD6B"/>
<polyline points="456.80,96.1 505.24,111 542.81,123.4 573.51,130.5 599.46,137.1 621.95,143.4 641.78,148.3 659.52,154 675.57,162.2 690.22,170.8 703.69,177 716.17,182.2 727.79,188.2 738.66,194.2 748.86,199 758.49,205.7 767.59,215.2 776.23,224.2 784.44,230.8 792.28,236 799.76,240.5 806.93,244.6 813.80,249.4" fill="none" stroke="#B177DE" stroke-width="0.6"/>
<path d="M451.85,96.1L456.8,91.15L461.75,96.1L456.8,101.05Z" fill="#B177DE"/>
<path d="M500.29,111L505.24,106.05L510.19,111L505.24,115.95Z" fill="#B177DE"/>
<path d="M537.86,123.4L542.81,118.45L547.76,123.4L542.81,128.35Z" fill="#B177DE"/>
<path d="M568.56,130.5L573.51,125.55L578.46,130.5L573.51,135.45Z" fill="#B177DE"/>
<path d="M594.51,137.1L599.46,132.15L604.41,137.1L599.46,142.05Z" fill="#B177DE"/>
<path d="M617.00,143.4L621.95,138.45L626.90,143.4L621.95,148.35Z" fill="#B177DE"/>
<path d="M636.83,148.3L641.78,143.35L646.73,148.3L641.78,153.25Z" fill="#B177DE"/>
<path d="M654.57,154L659.52,149.05L664.47,154L659.52,158.95Z" fill="#B177DE"/>
<path d="M670.62,162.2L675.57,157.25L680.52,162.2L675.57,167.15Z" fill="#B177DE"/>
<path d="M685.27,170.8L690.22,165.85L695.17,170.8L690.22,175.75Z" fill="#B177DE"/>
<path d="M698.74,177L703.69,172.05L708.64,177L703.69,181.95Z" fill="#B177DE"/>
<path d="M711.22,182.2L716.17,177.25L721.12,182.2L716.17,187.15Z" fill="#B177DE"/>
<path d="M722.84,188.2L727.79,183.25L732.74,188.2L727.79,193.15Z" fill="#B177DE"/>
<path d="M733.71,194.2L738.66,189.25L743.61,194.2L738.66,199.15Z" fill="#B177DE"/>
<path d="M743.91,199L748.86,194.05L753.81,199L748.86,203.95Z" fill="#B177DE"/>
<path d="M753.54,205.7L758.49,200.75L763.44,205.7L758.49,210.65Z" fill="#B177DE"/>
<path d="M762.64,215.2L767.59,210.25L772.54,215.2L767.59,220.15Z" fill="#B177DE"/>
<path d="M771.28,224.2L776.23,219.25L781.18,224.2L776.23,229.15Z" fill="#B177DE"/>
<path d="M779.49,230.8L784.44,225.85L789.39,230.8L784.44,235.75Z" fill="#B177DE"/>
<path d="M787.33,236L792.28,231.05L797.23,236L792.28,240.95Z" fill="#B177DE"/>
<path d="M794.81,240.5L799.76,235.55L804.71,240.5L799.76,245.45Z" fill="#B177DE"/>
<path d="M801.98,244.6L806.93,239.65L811.88,244.6L806.93,249.55Z" fill="#B177DE"/>
<path d="M808.85,249.4L813.8,244.45L818.75,249.4L813.8,254.35Z" fill="#B177DE"/>
<polyline points="456.80,96.3 505.24,110.2 542.81,121.4 573.51,128.2 599.46,134.4 621.95,140.5 641.78,145.4 659.52,150.7 675.57,158 690.22,166 703.69,171.5 716.17,176.6 727.79,182.2 738.66,187.7 748.86,192.5 758.49,198.6 767.59,207.1 776.23,215.5 784.44,221 792.28,225.4 799.76,230.2 806.93,234.1 813.80,238.1" fill="none" stroke="#CC9900" stroke-width="0.6"/>
<path d="M459.80,91.40L459.80,101.20L451.20,96.3Z" fill="#CC9900"/>
<path d="M508.24,105.30L508.24,115.10L499.64,110.2Z" fill="#CC9900"/>
<path d="M545.81,116.50L545.81,126.30L537.21,121.4Z" fill="#CC9900"/>
<path d="M576.51,123.30L576.51,133.10L567.91,128.2Z" fill="#CC9900"/>
<path d="M602.46,129.50L602.46,139.30L593.86,134.4Z" fill="#CC9900"/>
<path d="M624.95,135.60L624.95,145.40L616.35,140.5Z" fill="#CC9900"/>
<path d="M644.78,140.50L644.78,150.30L636.18,145.4Z" fill="#CC9900"/>
<path d="M662.52,145.80L662.52,155.60L653.92,150.7Z" fill="#CC9900"/>
<path d="M678.57,153.10L678.57,162.90L669.97,158Z" fill="#CC9900"/>
<path d="M693.22,161.10L693.22,170.90L684.62,166Z" fill="#CC9900"/>
<path d="M706.69,166.60L706.69,176.40L698.09,171.5Z" fill="#CC9900"/>
<path d="M719.17,171.70L719.17,181.50L710.57,176.6Z" fill="#CC9900"/>
<path d="M730.79,177.30L730.79,187.10L722.19,182.2Z" fill="#CC9900"/>
<path d="M741.66,182.80L741.66,192.60L733.06,187.7Z" fill="#CC9900"/>
<path d="M751.86,187.60L751.86,197.40L743.26,192.5Z" fill="#CC9900"/>
<path d="M761.49,193.70L761.49,203.50L752.89,198.6Z" fill="#CC9900"/>
<path d="M770.59,202.20L770.59,212.00L761.99,207.1Z" fill="#CC9900"/>
<path d="M779.23,210.60L779.23,220.40L770.63,215.5Z" fill="#CC9900"/>
<path d="M787.44,216.10L787.44,225.90L778.84,221Z" fill="#CC9900"/>
<path d="M795.28,220.50L795.28,230.30L786.68,225.4Z" fill="#CC9900"/>
<path d="M802.76,225.30L802.76,235.10L794.16,230.2Z" fill="#CC9900"/>
<path d="M809.93,229.20L809.93,239.00L801.33,234.1Z" fill="#CC9900"/>
<path d="M816.80,233.20L816.80,243.00L808.20,238.1Z" fill="#CC9900"/>
<polyline points="456.80,95.6 505.24,109.3 542.81,119.9 573.51,126.2 599.46,132.2 621.95,137.3 641.78,141.9 659.52,147 675.57,153.8 690.22,161.5 703.69,166.5 716.17,171.8 727.79,177.3 738.66,182.7 748.86,187 758.49,192.5 767.59,200.2 776.23,208.3 784.44,213.6 792.28,218.2 799.76,222.5 806.93,226.3 813.80,230.2" fill="none" stroke="#00CBCC" stroke-width="0.6"/>
<path d="M453.80,90.70L453.80,100.50L462.40,95.6Z" fill="#00CBCC"/>
<path d="M502.24,104.40L502.24,114.20L510.84,109.3Z" fill="#00CBCC"/>
<path d="M539.81,115.00L539.81,124.80L548.41,119.9Z" fill="#00CBCC"/>
<path d="M570.51,121.30L570.51,131.10L579.11,126.2Z" fill="#00CBCC"/>
<path d="M596.46,127.30L596.46,137.10L605.06,132.2Z" fill="#00CBCC"/>
<path d="M618.95,132.40L618.95,142.20L627.55,137.3Z" fill="#00CBCC"/>
<path d="M638.78,137.00L638.78,146.80L647.38,141.9Z" fill="#00CBCC"/>
<path d="M656.52,142.10L656.52,151.90L665.12,147Z" fill="#00CBCC"/>
<path d="M672.57,148.90L672.57,158.70L681.17,153.8Z" fill="#00CBCC"/>
<path d="M687.22,156.60L687.22,166.40L695.82,161.5Z" fill="#00CBCC"/>
<path d="M700.69,161.60L700.69,171.40L709.29,166.5Z" fill="#00CBCC"/>
<path d="M713.17,166.90L713.17,176.70L721.77,171.8Z" fill="#00CBCC"/>
<path d="M724.79,172.40L724.79,182.20L733.39,177.3Z" fill="#00CBCC"/>
<path d="M735.66,177.80L735.66,187.60L744.26,182.7Z" fill="#00CBCC"/>
<path d="M745.86,182.10L745.86,191.90L754.46,187Z" fill="#00CBCC"/>
<path d="M755.49,187.60L755.49,197.40L764.09,192.5Z" fill="#00CBCC"/>
<path d="M764.59,195.30L764.59,205.10L773.19,200.2Z" fill="#00CBCC"/>
<path d="M773.23,203.40L773.23,213.20L781.83,208.3Z" fill="#00CBCC"/>
<path d="M781.44,208.70L781.44,218.50L790.04,213.6Z" fill="#00CBCC"/>
<path d="M789.28,213.30L789.28,223.10L797.88,218.2Z" fill="#00CBCC"/>
<path d="M796.76,217.60L796.76,227.40L805.36,222.5Z" fill="#00CBCC"/>
<path d="M803.93,221.40L803.93,231.20L812.53,226.3Z" fill="#00CBCC"/>
<path d="M810.80,225.30L810.80,235.10L819.40,230.2Z" fill="#00CBCC"/>
<polyline points="456.80,99.5 505.24,107.0 542.81,115.1 573.51,120.3 599.46,126.0 621.95,129.6 641.78,131.3 659.52,133.7 675.57,138.6 690.22,142.5 703.69,144.7 716.17,148.5 727.79,152.5 738.66,156.3 748.86,159 758.49,163.4 767.59,170.1 776.23,174.9 784.44,178.1 792.28,182.2 799.76,185.3 806.93,188.2 813.80,191.8" fill="none" stroke="#7D4E4E" stroke-width="0.6"/>
<polygon points="456.80,94.95 452.86,97.22 452.86,101.78 456.80,104.05 460.74,101.78 460.74,97.22" fill="#7D4E4E"/>
<polygon points="505.24,102.45 501.30,104.72 501.30,109.28 505.24,111.55 509.18,109.28 509.18,104.72" fill="#7D4E4E"/>
<polygon points="542.81,110.55 538.87,112.82 538.87,117.38 542.81,119.65 546.75,117.38 546.75,112.82" fill="#7D4E4E"/>
<polygon points="573.51,115.75 569.57,118.02 569.57,122.58 573.51,124.85 577.45,122.58 577.45,118.02" fill="#7D4E4E"/>
<polygon points="599.46,121.45 595.52,123.72 595.52,128.28 599.46,130.55 603.40,128.28 603.40,123.72" fill="#7D4E4E"/>
<polygon points="621.95,125.05 618.01,127.32 618.01,131.88 621.95,134.15 625.89,131.88 625.89,127.32" fill="#7D4E4E"/>
<polygon points="641.78,126.75 637.84,129.03 637.84,133.58 641.78,135.85 645.72,133.58 645.72,129.03" fill="#7D4E4E"/>
<polygon points="659.52,129.15 655.58,131.42 655.58,135.97 659.52,138.25 663.46,135.97 663.46,131.42" fill="#7D4E4E"/>
<polygon points="675.57,134.05 671.63,136.32 671.63,140.88 675.57,143.15 679.51,140.88 679.51,136.32" fill="#7D4E4E"/>
<polygon points="690.22,137.95 686.28,140.22 686.28,144.78 690.22,147.05 694.16,144.78 694.16,140.22" fill="#7D4E4E"/>
<polygon points="703.69,140.15 699.75,142.42 699.75,146.97 703.69,149.25 707.63,146.97 707.63,142.42" fill="#7D4E4E"/>
<polygon points="716.17,143.95 712.23,146.22 712.23,150.78 716.17,153.05 720.11,150.78 720.11,146.22" fill="#7D4E4E"/>
<polygon points="727.79,147.95 723.85,150.22 723.85,154.78 727.79,157.05 731.73,154.78 731.73,150.22" fill="#7D4E4E"/>
<polygon points="738.66,151.75 734.72,154.03 734.72,158.58 738.66,160.85 742.60,158.58 742.60,154.03" fill="#7D4E4E"/>
<polygon points="748.86,154.45 744.92,156.72 744.92,161.28 748.86,163.55 752.80,161.28 752.80,156.72" fill="#7D4E4E"/>
<polygon points="758.49,158.85 754.55,161.12 754.55,165.68 758.49,167.95 762.43,165.68 762.43,161.12" fill="#7D4E4E"/>
<polygon points="767.59,165.55 763.65,167.82 763.65,172.38 767.59,174.65 771.53,172.38 771.53,167.82" fill="#7D4E4E"/>
<polygon points="776.23,170.35 772.29,172.62 772.29,177.18 776.23,179.45 780.17,177.18 780.17,172.62" fill="#7D4E4E"/>
<polygon points="784.44,173.55 780.50,175.82 780.50,180.38 784.44,182.65 788.38,180.38 788.38,175.82" fill="#7D4E4E"/>
<polygon points="792.28,177.65 788.34,179.92 788.34,184.47 792.28,186.75 796.22,184.47 796.22,179.92" fill="#7D4E4E"/>
<polygon points="799.76,180.75 795.82,183.03 795.82,187.58 799.76,189.85 803.70,187.58 803.70,183.03" fill="#7D4E4E"/>
<polygon points="806.93,183.65 802.99,185.92 802.99,190.47 806.93,192.75 810.87,190.47 810.87,185.92" fill="#7D4E4E"/>
<polygon points="813.80,187.25 809.86,189.53 809.86,194.08 813.80,196.35 817.74,194.08 817.74,189.53" fill="#7D4E4E"/>
</g>
<text transform="translate(453.40000000000003,32.90) scale(0.93,1)" font-size="20.2" text-anchor="end">10<tspan font-size="14.6" dy="-8.9">-2</tspan></text>
<text transform="translate(453.40000000000003,119.50) scale(0.93,1)" font-size="20.2" text-anchor="end">10<tspan font-size="14.6" dy="-8.0">-3</tspan></text>
<text transform="translate(453.40000000000003,207.30) scale(0.93,1)" font-size="20.2" text-anchor="end">10<tspan font-size="14.6" dy="-8.3">-4</tspan></text>
<text transform="translate(453.40000000000003,294.20) scale(0.93,1)" font-size="20.2" text-anchor="end">10<tspan font-size="14.6" dy="-8.2">-5</tspan></text>
<text transform="translate(453.40000000000003,381.30) scale(0.93,1)" font-size="20.2" text-anchor="end">10<tspan font-size="14.6" dy="-8.2">-6</tspan></text>
<text transform="translate(441.00000000000006,184.2) rotate(-90)" font-size="24.6" font-family="Liberation Serif">Φ</text>
<text transform="translate(446.50000000000006,164.9) rotate(-90)" font-size="16.4">xx</text>
<text transform="translate(441.20000000000005,148.6) rotate(-90) scale(0.9,1)" font-size="25">(r)</text>
<text x="650" y="397.1" font-size="24">r</text>
<text x="463.2" y="359.9" font-size="23">B</text>
<path d="M513.7,174.10h38.4" stroke="#515151" stroke-width="0.6"/>
<rect x="529.65" y="170.65" width="6.9" height="6.9" fill="#515151"/>
<text x="557.0" y="180.10" font-size="16.9">m=8000</text>
<path d="M513.7,194.80h38.4" stroke="#F14040" stroke-width="0.6"/>
<circle cx="533.1" cy="194.8" r="3.95" fill="#F14040"/>
<text x="557.0" y="200.80" font-size="16.9">m=12000</text>
<path d="M513.7,215.50h38.4" stroke="#1A6FDF" stroke-width="0.6"/>
<path d="M528.20,218.50L538.00,218.50L533.1,209.90Z" fill="#1A6FDF"/>
<text x="557.0" y="221.50" font-size="16.9">m=16000</text>
<path d="M513.7,236.20h38.4" stroke="#37AD6B" stroke-width="0.6"/>
<path d="M528.20,233.20L538.00,233.20L533.1,241.80Z" fill="#37AD6B"/>
<text x="557.0" y="242.20" font-size="16.9">m=20000</text>
<path d="M513.7,256.90h38.4" stroke="#B177DE" stroke-width="0.6"/>
<path d="M528.15,256.9L533.1,251.95L538.05,256.9L533.1,261.85Z" fill="#B177DE"/>
<text x="557.0" y="262.90" font-size="16.9">m=25000</text>
<path d="M513.7,277.60h38.4" stroke="#CC9900" stroke-width="0.6"/>
<path d="M536.10,272.70L536.10,282.50L527.50,277.6Z" fill="#CC9900"/>
<text x="557.0" y="283.60" font-size="16.9">m=30000</text>
<path d="M513.7,298.30h38.4" stroke="#00CBCC" stroke-width="0.6"/>
<path d="M530.10,293.40L530.10,303.20L538.70,298.3Z" fill="#00CBCC"/>
<text x="557.0" y="304.30" font-size="16.9">m=35000</text>
<path d="M513.7,319.00h38.4" stroke="#7D4E4E" stroke-width="0.6"/>
<polygon points="533.10,314.45 529.16,316.73 529.16,321.27 533.10,323.55 537.04,321.27 537.04,316.73" fill="#7D4E4E"/>
<text x="557.0" y="325.00" font-size="16.9">m=infty</text>
</svg>
</body></html>
